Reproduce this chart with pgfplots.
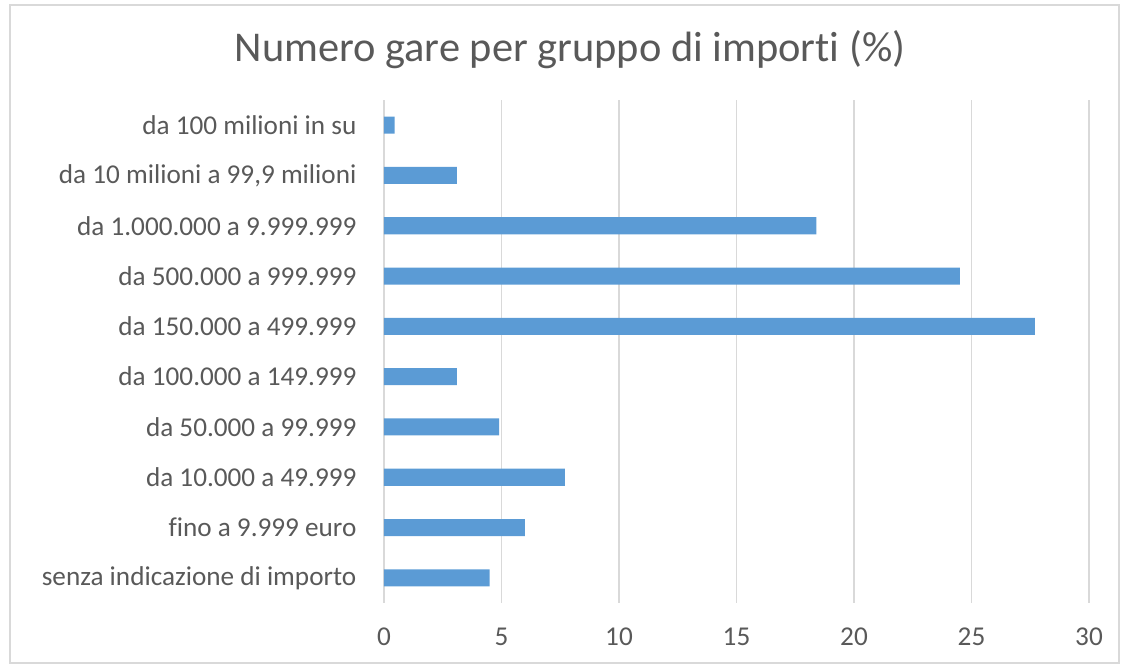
\documentclass[border=0pt]{standalone}
\usepackage{pgfplots}
\pgfplotsset{compat=1.18}
\usepackage{fontspec}
\setmainfont{Carlito}[Ligatures=NoCommon]
\definecolor{barblue}{HTML}{5B9BD5}
\definecolor{txtgray}{HTML}{595959}
\definecolor{gridgray}{HTML}{D9D9D9}
\definecolor{framegray}{HTML}{D9D9D9}

\begin{document}
\begin{tikzpicture}
% 1 px of the reference = 0.5pt, plot area south west at px (384,603)
\useasboundingbox (-192pt,-32.5pt) rectangle (372pt,301.5pt);
\draw[framegray, line width=0.8pt] (-187pt,-30pt) rectangle (367.5pt,299pt);

\begin{axis}[
    at={(0pt,0pt)}, anchor=south west,
    scale only axis,
    width=352.5pt, height=251.5pt,
    xbar,
    bar width=8.5pt,
    xmin=0, xmax=30,
    ymin=-0.5, ymax=9.5,
    xtick={0,5,10,15,20,25,30},
    ytick={0,...,9},
    yticklabels={senza indicazione di importo, fino a 9.999 euro, da 10.000 a 49.999,
        da 50.000 a 99.999, da 100.000 a 149.999, da 150.000 a 499.999,
        da 500.000 a 999.999, da 1.000.000 a 9.999.999,
        {da 10 milioni a 99,9 milioni}, da 100 milioni in su},
    xmajorgrids=true,
    grid style={gridgray, line width=0.75pt},
    axis line style={draw=none},
    tick style={draw=none},
    /pgf/number format/assume math mode=true,
    ticklabel style={font=\fontsize{13.6}{16}\selectfont, text=txtgray},
    yticklabel style={xshift=-6pt},
    xticklabel style={yshift=-9pt},
]
\addplot[fill=barblue, draw=none] coordinates {
    (4.5,0) (6.0,1) (7.7,2) (4.9,3) (3.1,4)
    (27.7,5) (24.5,6) (18.4,7) (3.1,8) (0.45,9)
};
\end{axis}

\node[text=txtgray, font=\fontsize{21.2}{25}\selectfont] at (93pt,276.5pt)
    {Numero gare per gruppo di importi (\%)};
\end{tikzpicture}
\end{document}
